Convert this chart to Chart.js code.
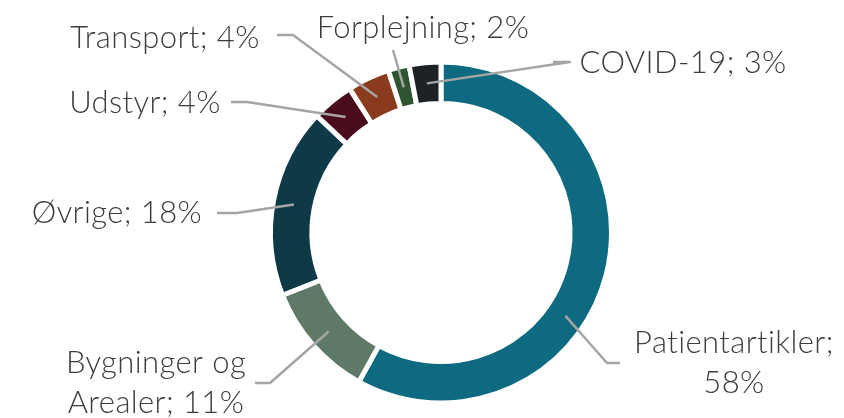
<!DOCTYPE html>
<html>
<head>
<meta charset="utf-8">
<script src="https://cdn.jsdelivr.net/npm/chart.js@4/dist/chart.umd.min.js"></script>
<style>
  html, body { margin: 0; padding: 0; background: #ffffff; }
  #wrap { width: 844px; height: 418px; position: relative; }
</style>
</head>
<body>
<div id="wrap"><canvas id="c" width="844" height="418"></canvas></div>
<script>
// ---- data ----
const categories = ["Patientartikler", "Bygninger og Arealer", "Øvrige", "Udstyr", "Transport", "Forplejning", "COVID-19"];
const shares = [58, 11, 18, 4, 4, 2, 3];
const labelLines = [
  ["Patientartikler;", "58%"],
  ["Bygninger og", "Arealer; 11%"],
  ["Øvrige; 18%"],
  ["Udstyr; 4%"],
  ["Transport; 4%"],
  ["Forplejning; 2%"],
  ["COVID-19; 3%"]
];

// ---- styles / layout (not data) ----
const colors = ["#0e6a80", "#5e7a66", "#0d3a46", "#4a0c1c", "#8a3a1d", "#2f5530", "#1c2226"];
// per label: anchor fraction along the arc, label centre offset from chart centre,
// elbow offset, horizontal-end offset (null = no horizontal piece)
const labelLayout = [
  { frac: 0.593, text: [293, 130], elbow: [166, 130.5], end: [179, 130.5] },
  { frac: 0.5,   text: [-285, 150.5], elbow: [-171, 150.5], end: [-186, 150.5] },
  { frac: 0.5,   text: [-324, -19.5], elbow: [-204, -19.5], end: [-224, -19.5] },
  { frac: 0.5,   text: [-296, -130], elbow: [-194, -130.5], end: [-210, -130.5] },
  { frac: 0.5,   text: [-276, -195], elbow: [-148, -197.5], end: [-164, -197.5] },
  { frac: 0.5,   text: [-18, -205], elbow: [-48, -182.5], end: null },
  { frac: 0.5,   text: [242, -170], elbow: [129, -170.5], end: [112, -170.5] }
];
const FONT = '300 31px "Lato", sans-serif';
const LINE_H = 40;

const outsideLabels = {
  id: 'outsideLabels',
  afterDatasetsDraw(chart) {
    const ctx = chart.ctx;
    const meta = chart.getDatasetMeta(0);
    ctx.save();
    meta.data.forEach((arc, i) => {
      const p = arc.getProps(['x', 'y', 'startAngle', 'endAngle', 'innerRadius', 'outerRadius'], true);
      const L = labelLayout[i];
      const a = p.startAngle + (p.endAngle - p.startAngle) * L.frac;
      const r = (p.innerRadius + p.outerRadius) / 2;
      const sx = p.x + r * Math.cos(a), sy = p.y + r * Math.sin(a);
      ctx.strokeStyle = '#a5a5a5';
      ctx.lineWidth = 2.5;
      ctx.lineJoin = 'round';
      ctx.beginPath();
      ctx.moveTo(sx, sy);
      ctx.lineTo(p.x + L.elbow[0], p.y + L.elbow[1]);
      if (L.end) ctx.lineTo(p.x + L.end[0], p.y + L.end[1]);
      ctx.stroke();
      ctx.fillStyle = '#3a3d41';
      ctx.font = FONT;
      if ('letterSpacing' in ctx) ctx.letterSpacing = '0.4px';
      ctx.textAlign = 'center';
      ctx.textBaseline = 'middle';
      const lines = labelLines[i];
      const cx = p.x + L.text[0];
      const cy = p.y + L.text[1] - (lines.length - 1) * LINE_H / 2;
      lines.forEach((t, k) => ctx.fillText(t, cx, cy + k * LINE_H));
    });
    ctx.restore();
  }
};

new Chart(document.getElementById('c'), {
  type: 'doughnut',
  data: {
    labels: categories,
    datasets: [{
      data: shares,
      backgroundColor: colors,
      borderColor: '#ffffff',
      borderWidth: 5,
      hoverOffset: 0
    }]
  },
  options: {
    responsive: false,
    animation: false,
    cutout: '75.7%',
    layout: { padding: { left: 38, right: 0, top: 59.5, bottom: 12.5 } },
    plugins: {
      legend: { display: false },
      tooltip: { enabled: false },
      title: { display: false }
    }
  },
  plugins: [outsideLabels]
});
</script>
</body>
</html>
